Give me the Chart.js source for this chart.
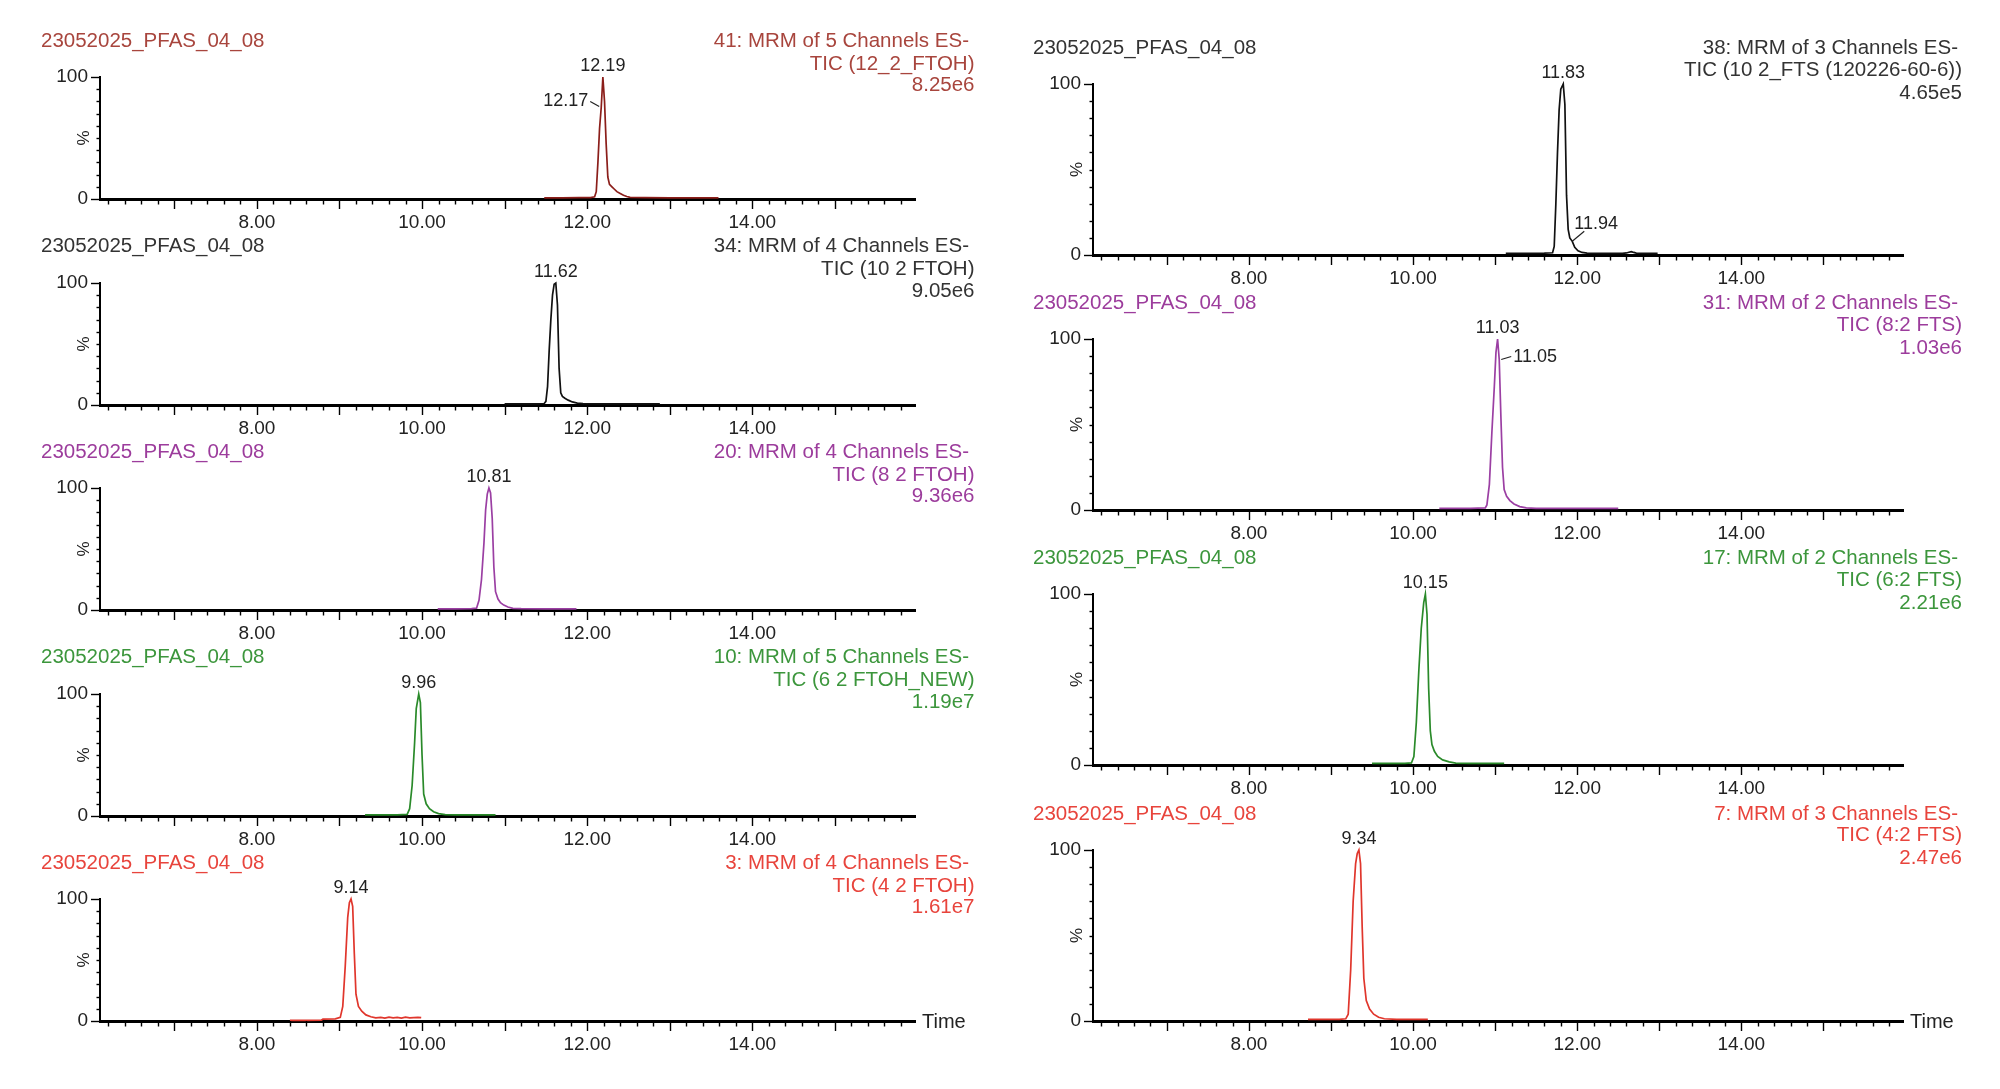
<!DOCTYPE html>
<html><head><meta charset="utf-8">
<script src="https://cdn.jsdelivr.net/npm/chart.js@4.4.1/dist/chart.umd.min.js"></script>
<style>
html,body{margin:0;padding:0;background:#fff;}
body{width:2000px;height:1089px;position:relative;overflow:hidden;font-family:"Liberation Sans",Arial,sans-serif;}
canvas{position:absolute;}
.t{position:absolute;font-size:20.5px;line-height:22px;white-space:nowrap;}
</style></head><body>
<script>
// ---------------- DATA ----------------
const sampleName = "23052025_PFAS_04_08";
const functionLabels = ["41: MRM of 5 Channels ES-", "34: MRM of 4 Channels ES-", "20: MRM of 4 Channels ES-", "10: MRM of 5 Channels ES-", "3: MRM of 4 Channels ES-",
                        "38: MRM of 3 Channels ES-", "31: MRM of 2 Channels ES-", "17: MRM of 2 Channels ES-", "7: MRM of 3 Channels ES-"];
const compoundLabels = ["TIC (12_2_FTOH)", "TIC (10 2 FTOH)", "TIC (8 2 FTOH)", "TIC (6 2 FTOH_NEW)", "TIC (4 2 FTOH)",
                        "TIC (10 2_FTS (120226-60-6))", "TIC (8:2 FTS)", "TIC (6:2 FTS)", "TIC (4:2 FTS)"];
const intensityLabels = ["8.25e6", "9.05e6", "9.36e6", "1.19e7", "1.61e7", "4.65e5", "1.03e6", "2.21e6", "2.47e6"];
const xTickLabels = [8, 10, 12, 14];
const yTickLabels = [0, 100];
const yAxisTitle = "%";
const xAxisTitle = "Time";

// 12:2 FTOH
const time_12_2_FTOH = [11.48, 11.70, 11.90, 12.04, 12.09, 12.11, 12.13, 12.15, 12.17, 12.19, 12.21, 12.23, 12.25, 12.27, 12.30, 12.33, 12.36, 12.40, 12.44, 12.48, 12.52, 12.70, 13.00, 13.30, 13.59];
const int_12_2_FTOH  = [1.0, 1.0, 1.1, 1.2, 1.8, 6, 30, 58, 75, 100, 80, 45, 18, 12, 10, 8, 6, 4.5, 3, 2, 1.3, 1.1, 1.0, 1.0, 1.0];
const peaks_12_2_FTOH = [12.19, 12.17];
const peakLevels_12_2_FTOH = [100, 75];

// 10:2 FTOH
const time_10_2_FTOH = [11.00, 11.20, 11.40, 11.48, 11.50, 11.52, 11.54, 11.56, 11.58, 11.60, 11.62, 11.64, 11.66, 11.68, 11.70, 11.73, 11.77, 11.82, 11.88, 11.95, 12.20, 12.50, 12.88];
const int_10_2_FTOH  = [1.0, 1.0, 1.0, 1.2, 3, 15, 45, 70, 90, 99, 100, 82, 30, 10, 7, 5.5, 4, 2.5, 1.5, 1.1, 1.0, 1.0, 1.0];
const peaks_10_2_FTOH = [11.62];
const peakLevels_10_2_FTOH = [100];

// 8:2 FTOH
const time_8_2_FTOH = [10.19, 10.40, 10.60, 10.66, 10.69, 10.72, 10.75, 10.77, 10.79, 10.81, 10.83, 10.85, 10.87, 10.89, 10.92, 10.95, 10.99, 11.04, 11.10, 11.20, 11.50, 11.87];
const int_8_2_FTOH  = [1.0, 1.0, 1.1, 1.5, 8, 25, 55, 82, 95, 100, 96, 75, 35, 15, 9, 6, 4, 2.5, 1.4, 1.1, 1.0, 1.0];
const peaks_8_2_FTOH = [10.81];
const peakLevels_8_2_FTOH = [100];

// 6:2 FTOH
const time_6_2_FTOH = [9.31, 9.50, 9.70, 9.82, 9.85, 9.88, 9.91, 9.93, 9.96, 9.98, 10.00, 10.02, 10.05, 10.09, 10.14, 10.20, 10.28, 10.40, 10.60, 10.89];
const int_6_2_FTOH  = [1.0, 1.0, 1.0, 1.3, 6, 25, 60, 88, 100, 93, 50, 18, 10, 6, 3.5, 2, 1.2, 1.0, 1.0, 1.0];
const peaks_6_2_FTOH = [9.96];
const peakLevels_6_2_FTOH = [100];

// 4:2 FTOH
const time_4_2_FTOH = [8.40, 8.60, 8.78, 8.80, 8.95, 9.01, 9.04, 9.07, 9.10, 9.12, 9.14, 9.16, 9.18, 9.20, 9.23, 9.27, 9.32, 9.38, 9.44, 9.50, 9.55, 9.60, 9.65, 9.70, 9.75, 9.80, 9.85, 9.90, 9.95, 9.99];
const int_4_2_FTOH  = [0.5, 0.5, 0.6, 1.6, 1.8, 3, 12, 45, 85, 97, 100, 94, 55, 22, 12, 8, 5, 3.5, 2.6, 3.0, 2.4, 3.1, 2.6, 2.9, 2.3, 3.2, 2.5, 2.8, 3.0, 2.7];
const peaks_4_2_FTOH = [9.14];
const peakLevels_4_2_FTOH = [100];

// 10:2 FTS
const time_10_2_FTS = [11.13, 11.40, 11.60, 11.70, 11.72, 11.74, 11.76, 11.78, 11.80, 11.83, 11.85, 11.87, 11.89, 11.91, 11.94, 11.97, 12.01, 12.06, 12.12, 12.30, 12.55, 12.60, 12.63, 12.66, 12.69, 12.72, 12.80, 12.98];
const int_10_2_FTS  = [1.0, 1.0, 1.1, 1.3, 5, 30, 60, 85, 97, 100, 88, 35, 15, 10, 8, 4.5, 2.5, 1.5, 1.1, 1.0, 1.0, 1.2, 1.6, 2.0, 1.5, 1.1, 1.0, 1.0];
const peaks_10_2_FTS = [11.83, 11.94];
const peakLevels_10_2_FTS = [100, 8];

// 8:2 FTS
const time_8_2_FTS = [10.32, 10.50, 10.70, 10.88, 10.90, 10.93, 10.96, 10.99, 11.01, 11.03, 11.05, 11.07, 11.09, 11.11, 11.14, 11.18, 11.23, 11.30, 11.38, 11.50, 12.00, 12.50];
const int_8_2_FTS  = [1.0, 1.0, 1.0, 1.2, 3, 15, 45, 72, 92, 100, 88, 55, 25, 12, 8, 5.5, 3.5, 2, 1.2, 1.0, 1.0, 1.0];
const peaks_8_2_FTS = [11.03, 11.05];
const peakLevels_8_2_FTS = [100, 88];

// 6:2 FTS
const time_6_2_FTS = [9.50, 9.70, 9.90, 9.98, 10.01, 10.04, 10.07, 10.10, 10.13, 10.15, 10.17, 10.19, 10.21, 10.23, 10.26, 10.30, 10.36, 10.44, 10.52, 10.70, 10.90, 11.11];
const int_6_2_FTS  = [1.0, 1.0, 1.0, 1.2, 5, 25, 55, 80, 95, 100, 88, 45, 20, 12, 8, 5, 3, 1.8, 1.1, 1.0, 1.0, 1.0];
const peaks_6_2_FTS = [10.15];
const peakLevels_6_2_FTS = [100];

// 4:2 FTS
const time_4_2_FTS = [8.72, 8.90, 9.10, 9.18, 9.21, 9.24, 9.27, 9.30, 9.32, 9.34, 9.36, 9.38, 9.40, 9.43, 9.47, 9.52, 9.58, 9.65, 9.80, 10.00, 10.18];
const int_4_2_FTS  = [1.0, 1.0, 1.0, 1.3, 4, 30, 70, 92, 98, 100, 92, 55, 25, 12, 7, 4, 2.2, 1.3, 1.0, 1.0, 1.0];
const peaks_4_2_FTS = [9.34];
const peakLevels_4_2_FTS = [100];

// ---------------- LAYOUT / STYLE ----------------
const FONT = '"Liberation Sans", Arial, sans-serif';
const X_MIN = 6.1, X_MAX = 15.97;

const panels = [
  {col:0,row:0,line:'#8b1e1a',text:'#a8453d',t:time_12_2_FTOH,v:int_12_2_FTOH,pk:peaks_12_2_FTOH,pl:peakLevels_12_2_FTOH,ps:['top','left']},
  {col:0,row:1,line:'#111111',text:'#333333',t:time_10_2_FTOH,v:int_10_2_FTOH,pk:peaks_10_2_FTOH,pl:peakLevels_10_2_FTOH,ps:['top']},
  {col:0,row:2,line:'#9b3fa3',text:'#9c3c9c',t:time_8_2_FTOH,v:int_8_2_FTOH,pk:peaks_8_2_FTOH,pl:peakLevels_8_2_FTOH,ps:['top']},
  {col:0,row:3,line:'#2a8a2a',text:'#3c963c',t:time_6_2_FTOH,v:int_6_2_FTOH,pk:peaks_6_2_FTOH,pl:peakLevels_6_2_FTOH,ps:['top']},
  {col:0,row:4,line:'#e0362c',text:'#e8443c',t:time_4_2_FTOH,v:int_4_2_FTOH,pk:peaks_4_2_FTOH,pl:peakLevels_4_2_FTOH,ps:['top'],last:true},
  {col:1,row:0,line:'#111111',text:'#333333',t:time_10_2_FTS,v:int_10_2_FTS,pk:peaks_10_2_FTS,pl:peakLevels_10_2_FTS,ps:['top','upright']},
  {col:1,row:1,line:'#9b3fa3',text:'#9c3c9c',t:time_8_2_FTS,v:int_8_2_FTS,pk:peaks_8_2_FTS,pl:peakLevels_8_2_FTS,ps:['top','right']},
  {col:1,row:2,line:'#2a8a2a',text:'#3c963c',t:time_6_2_FTS,v:int_6_2_FTS,pk:peaks_6_2_FTS,pl:peakLevels_6_2_FTS,ps:['top']},
  {col:1,row:3,line:'#e0362c',text:'#e8443c',t:time_4_2_FTS,v:int_4_2_FTS,pk:peaks_4_2_FTS,pl:peakLevels_4_2_FTS,ps:['top'],last:true}
];

function geom(p){
  if(p.col===0){
    return {colX:0, axL:100, axR:915, yTop:77+205.5*p.row, yZero:198.5+205.5*p.row,
            titleY:39.5+205.5*p.row, nameX:41, r1:969, r2:974.5, dy:[0,23,44.6]};
  }
  return {colX:1000, axL:1093, axR:1903, yTop:84.2+255.1*p.row, yZero:255.2+255.1*p.row,
          titleY:47.2+255.1*p.row, nameX:1033, r1:1958, r2:1962, dy:[0,21.7,44.6]};
}

// minor tick positions (every 0.2 min) and y ticks (every 10 %)
const xTickPos = []; for(let k=31;k<=79;k++) xTickPos.push(k/5);
const yTickPos = []; for(let k=0;k<=10;k++) yTickPos.push(k*10);

function decorPlugin(p, g){
  return {
    id:'decor'+p.col+p.row,
    afterDraw(chart){
      const ctx = chart.ctx, xs = chart.scales.x, ys = chart.scales.y, ca = chart.chartArea;
      ctx.save();
      ctx.strokeStyle = '#000'; ctx.lineWidth = 1.4;
      xTickPos.forEach(v=>{
        const px = Math.round(xs.getPixelForValue(v))+0.5;
        const major = Math.abs(v-Math.round(v))<1e-6;
        ctx.beginPath(); ctx.moveTo(px, ca.bottom); ctx.lineTo(px, ca.bottom + (major?10:5.5)); ctx.stroke();
      });
      yTickPos.forEach(v=>{
        const py = Math.round(ys.getPixelForValue(v))+0.5;
        const major = (v===0||v===100);
        ctx.beginPath(); ctx.moveTo(ca.left, py); ctx.lineTo(ca.left - (major?9:3.5), py); ctx.stroke();
      });
      ctx.fillStyle = '#222';
      ctx.font = '17px '+FONT;
      ctx.translate(ca.left-16, (ca.top+ca.bottom)/2);
      ctx.rotate(-Math.PI/2);
      ctx.textAlign='center'; ctx.textBaseline='middle';
      ctx.fillText(yAxisTitle, 0, 0);
      ctx.restore();

      ctx.save();
      ctx.fillStyle = '#222'; ctx.strokeStyle = '#222'; ctx.lineWidth = 1.2;
      ctx.font = '18px '+FONT;
      p.pk.forEach((t,k)=>{
        const px = xs.getPixelForValue(t), py = ys.getPixelForValue(p.pl[k]);
        const txt = t.toFixed(2), st = p.ps[k];
        ctx.textBaseline='alphabetic';
        if(st==='top'){
          ctx.textAlign='center'; ctx.fillText(txt, px, py-6);
        } else if(st==='left'){
          ctx.beginPath(); ctx.moveTo(px-2, py-1); ctx.lineTo(px-11, py-6); ctx.stroke();
          ctx.textAlign='right'; ctx.fillText(txt, px-13, py-2);
        } else if(st==='upright'){
          ctx.beginPath(); ctx.moveTo(px, py); ctx.lineTo(px+12, py-10); ctx.stroke();
          ctx.textAlign='left'; ctx.fillText(txt, px+2, py-12);
        } else if(st==='right'){
          ctx.beginPath(); ctx.moveTo(px+2, py); ctx.lineTo(px+12, py-3); ctx.stroke();
          ctx.textAlign='left'; ctx.fillText(txt, px+14, py+2);
        }
      });
      if(p.last){
        ctx.fillStyle='#222'; ctx.font='20px '+FONT;
        ctx.textAlign='left'; ctx.textBaseline='middle';
        ctx.fillText(xAxisTitle, ca.right+7, ca.bottom+1);
      }
      ctx.restore();
    }
  };
}

function addText(txt, x, y, color, align){
  const d = document.createElement('div');
  d.className='t'; d.textContent = txt; d.style.color = color;
  d.style.top = (y-11)+'px';
  if(align==='right'){ d.style.right = (2000-x)+'px'; } else { d.style.left = x+'px'; }
  document.body.appendChild(d);
}

panels.forEach((p, i)=>{
  const g = geom(p);
  const padTop = 40, axH = 42;
  const cv = document.createElement('canvas');
  const w = 1000, h = Math.round(g.yZero - g.yTop + padTop + axH);
  cv.width = w; cv.height = h;
  cv.style.left = g.colX+'px'; cv.style.top = (g.yTop - padTop)+'px';
  cv.style.width = w+'px'; cv.style.height = h+'px';
  document.body.appendChild(cv);

  addText(sampleName, g.nameX, g.titleY, p.text, 'left');
  addText(functionLabels[i], g.r1, g.titleY+g.dy[0], p.text, 'right');
  addText(compoundLabels[i], g.r2, g.titleY+g.dy[1], p.text, 'right');
  addText(intensityLabels[i], g.r2, g.titleY+g.dy[2], p.text, 'right');

  const pts = p.t.map((t,k)=>({x:t, y:p.v[k]}));
  new Chart(cv.getContext('2d'), {
    type:'line',
    data:{datasets:[{data:pts, borderColor:p.line, borderWidth:1.7, pointRadius:0, tension:0, fill:false, clip:false}]},
    options:{
      responsive:false, animation:false, devicePixelRatio:1, events:[],
      layout:{padding:{left:0, right: w-(g.axR-g.colX), top:padTop, bottom:0}},
      plugins:{legend:{display:false}, tooltip:{enabled:false}, title:{display:false}},
      scales:{
        x:{type:'linear', min:X_MIN, max:X_MAX,
           afterFit:s=>{s.height=axH;},
           afterBuildTicks:s=>{s.ticks = xTickPos.map(v=>({value:v}));},
           grid:{display:false, drawTicks:false},
           border:{display:true, color:'#000', width:3},
           ticks:{autoSkip:false, maxRotation:0, minRotation:0, padding:12, color:'#222',
                  font:{family:FONT, size:19},
                  callback:v=>{const r=Math.round(v); return (Math.abs(v-r)<1e-6 && xTickLabels.includes(r)) ? r.toFixed(2) : '';}}
        },
        y:{type:'linear', min:0, max:100,
           afterFit:s=>{s.width = g.axL-g.colX;},
           afterBuildTicks:s=>{s.ticks = yTickPos.map(v=>({value:v}));},
           grid:{display:false, drawTicks:false},
           border:{display:true, color:'#000', width:2},
           ticks:{autoSkip:false, padding:12, color:'#222', font:{family:FONT, size:19},
                  callback:v=>yTickLabels.includes(v) ? String(v) : ''}
        }
      }
    },
    plugins:[decorPlugin(p,g)]
  });
});
</script>
</body></html>
